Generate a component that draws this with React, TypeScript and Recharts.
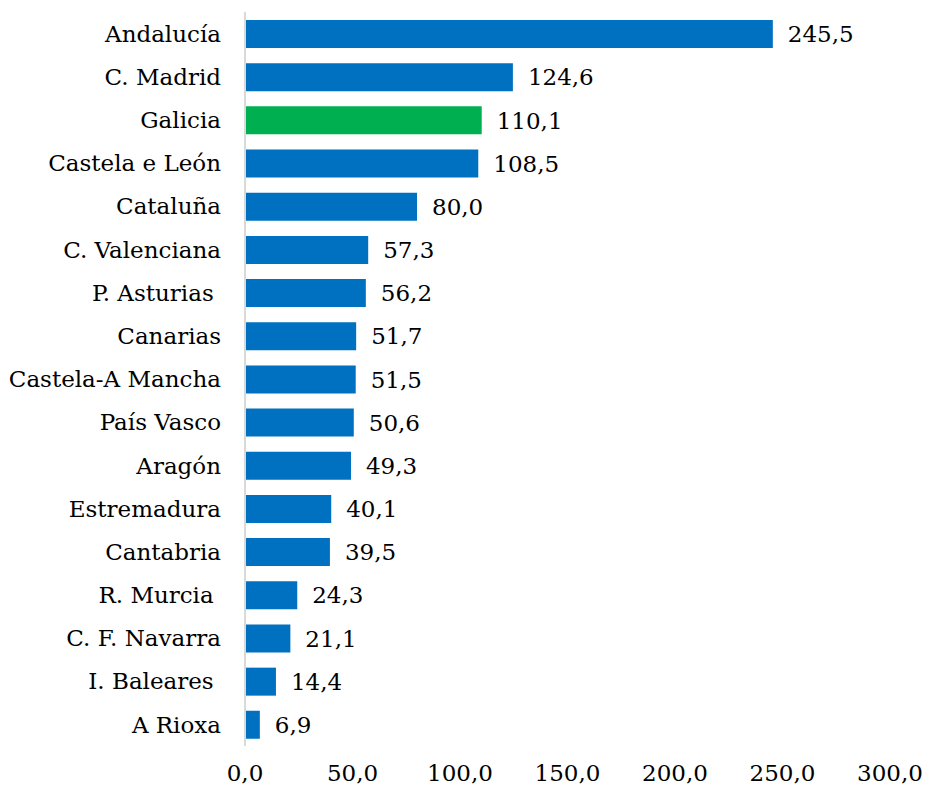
import React from "react";
import { BarChart, Bar, XAxis, YAxis, Cell, LabelList } from "recharts";

const regions = [
  "Andalucía",
  "C. Madrid",
  "Galicia",
  "Castela e León",
  "Cataluña",
  "C. Valenciana",
  "P. Asturias\u00a0",
  "Canarias",
  "Castela-A Mancha",
  "País Vasco",
  "Aragón",
  "Estremadura",
  "Cantabria",
  "R. Murcia\u00a0",
  "C. F. Navarra",
  "I. Baleares\u00a0",
  "A Rioxa",
];
const values = [245.5, 124.6, 110.1, 108.5, 80.0, 57.3, 56.2, 51.7, 51.5, 50.6, 49.3, 40.1, 39.5, 24.3, 21.1, 14.4, 6.9];
const xTicks = [0, 50, 100, 150, 200, 250, 300];

const data = regions.map((name, i) => ({ name, value: values[i] }));

const fmt = (v: any) => Number(v).toFixed(1).replace(".", ",");
const font = "DejaVu Serif";

export default function App() {
  return (
    <div style={{ position: "absolute", left: 0, top: 0 }}>
      <BarChart
        width={928}
        height={792}
        data={data}
        layout="vertical"
        margin={{ top: 12, right: 38, bottom: 0, left: 0 }}
      >
        <XAxis
          type="number"
          domain={[0, 300]}
          ticks={xTicks}
          axisLine={false}
          tickLine={false}
          tickSize={0}
          tickMargin={19}
          height={46}
          tickFormatter={fmt}
          tick={{ fill: "#000", fontSize: 23, fontFamily: font }}
        />
        <YAxis
          type="category"
          dataKey="name"
          width={245}
          tickLine={false}
          tickSize={0}
          tickMargin={24}
          axisLine={{ stroke: "#d9d9d9", strokeWidth: 2 }}
          tick={{ fill: "#000", fontSize: 23, fontFamily: font }}
        />
        <Bar dataKey="value" barSize={28} isAnimationActive={false}>
          {data.map((d, i) => (
            <Cell key={i} fill={d.name === "Galicia" ? "#00B050" : "#0070C0"} />
          ))}
          <LabelList
            dataKey="value"
            position="right"
            offset={15}
            formatter={fmt}
            style={{ fill: "#000", fontSize: 23, fontFamily: font }}
          />
        </Bar>
      </BarChart>
    </div>
  );
}
